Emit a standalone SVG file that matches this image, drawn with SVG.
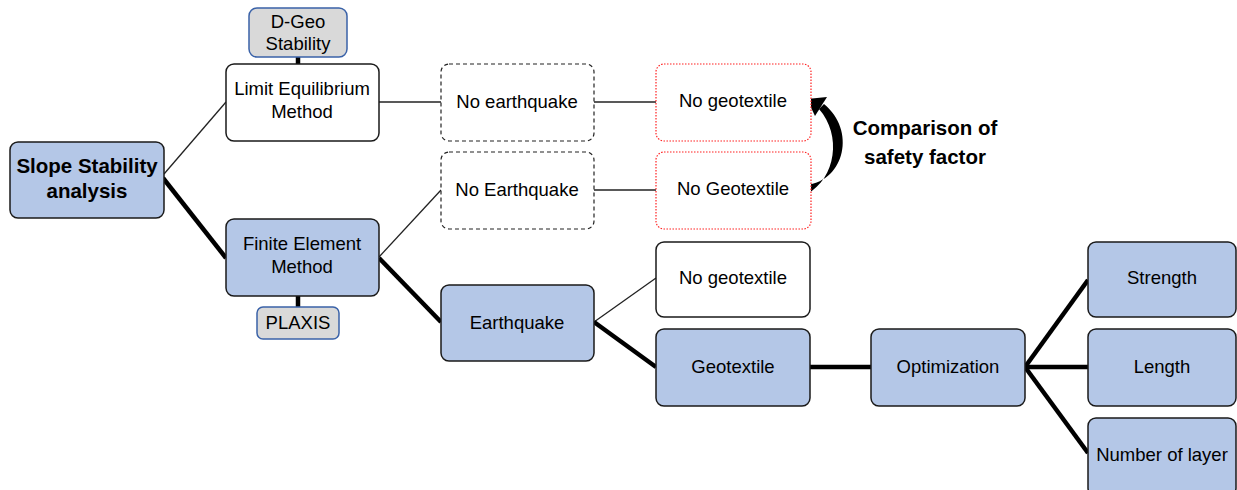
<svg xmlns="http://www.w3.org/2000/svg" width="1237" height="490" viewBox="0 0 1237 490">
<style>
text{font-family:"Liberation Sans",Arial,sans-serif;font-size:18.5px;fill:#000;text-anchor:middle}
.b{font-weight:bold;font-size:20.5px}
.blue{fill:#b4c7e7;stroke:#1a1a1a;stroke-width:1.5}
.white{fill:#fff;stroke:#1a1a1a;stroke-width:1.5}
.gray{fill:#d9d9d9;stroke:#3a62a8;stroke-width:1.5}
.dash{fill:#fff;stroke:#222;stroke-width:1.2;stroke-dasharray:4 3}
.red{fill:#fff;stroke:#ff2020;stroke-width:1.2;stroke-dasharray:1.5 1.5}
.thin{stroke:#222;stroke-width:1.3;fill:none}
.thick{stroke:#000;stroke-width:4.5;fill:none}
</style>
<g id="connectors">
<line class="thin" x1="164" y1="174" x2="226" y2="102"/>
<line class="thick" x1="163" y1="178" x2="226" y2="258"/>
<line class="thick" x1="298" y1="57" x2="298" y2="64"/>
<line class="thick" x1="298" y1="296" x2="298" y2="307"/>
<line class="thin" x1="379" y1="102" x2="441" y2="102"/>
<line class="thin" x1="594" y1="102" x2="656" y2="102"/>
<line class="thin" x1="379" y1="257" x2="441" y2="190"/>
<line class="thick" x1="379" y1="258" x2="441" y2="322"/>
<line class="thin" x1="594" y1="190" x2="656" y2="190"/>
<line class="thin" x1="594" y1="322" x2="656" y2="278"/>
<line class="thick" x1="594" y1="322" x2="656" y2="367"/>
<line class="thick" x1="810" y1="367" x2="871" y2="367"/>
<line class="thick" x1="1025" y1="367" x2="1088" y2="280"/>
<line class="thick" x1="1025" y1="367" x2="1088" y2="367"/>
<line class="thick" x1="1025" y1="367" x2="1088" y2="453"/>
<path d="M 807 185 C 845 180 856 130 824 104 L 819 109 C 842 135 836 178 807 194 Z" fill="#000"/>
<path d="M 807 99 L 827 97 L 815 116 Z" fill="#000"/>
</g>
<g id="slope"><rect class="blue" x="10" y="142" width="154" height="76" rx="8"/><text class="b" x="87" y="173">Slope Stability</text><text class="b" x="87" y="198">analysis</text></g>
<g id="dgeo"><rect class="gray" x="249" y="8" width="98" height="49" rx="8"/><text x="298" y="28">D-Geo</text><text x="298" y="50">Stability</text></g>
<g id="lem"><rect class="white" x="226" y="64" width="153" height="77" rx="8"/><text x="302" y="95">Limit Equilibrium</text><text x="302" y="118">Method</text></g>
<g id="fem"><rect class="blue" x="226" y="219" width="153" height="77" rx="8"/><text x="302" y="250">Finite Element</text><text x="302" y="273">Method</text></g>
<g id="plaxis"><rect class="gray" x="257" y="307" width="82" height="32" rx="6"/><text x="298" y="329">PLAXIS</text></g>
<g id="noeq1"><rect class="dash" x="441" y="64" width="153" height="77" rx="8"/><text x="517" y="108">No earthquake</text></g>
<g id="noeq2"><rect class="dash" x="441" y="152" width="153" height="77" rx="8"/><text x="517" y="196">No Earthquake</text></g>
<g id="eq"><rect class="blue" x="441" y="285" width="153" height="76" rx="8"/><text x="517" y="329">Earthquake</text></g>
<g id="nogeo1"><rect class="red" x="656" y="64" width="155" height="77" rx="8"/><text x="733" y="107">No geotextile</text></g>
<g id="nogeo2"><rect class="red" x="656" y="152" width="155" height="77" rx="8"/><text x="733" y="195">No Geotextile</text></g>
<g id="nogeo3"><rect class="white" x="656" y="242" width="154" height="75" rx="8"/><text x="733" y="284">No geotextile</text></g>
<g id="geo"><rect class="blue" x="656" y="329" width="154" height="77" rx="8"/><text x="733" y="373">Geotextile</text></g>
<g id="opt"><rect class="blue" x="871" y="329" width="154" height="77" rx="8"/><text x="948" y="373">Optimization</text></g>
<g id="strength"><rect class="blue" x="1088" y="242" width="148" height="75" rx="8"/><text x="1162" y="284">Strength</text></g>
<g id="length"><rect class="blue" x="1088" y="329" width="148" height="77" rx="8"/><text x="1162" y="373">Length</text></g>
<g id="layers"><rect class="blue" x="1088" y="418" width="148" height="78" rx="8"/><text x="1162" y="461">Number of layer</text></g>
<g id="comparison"><text class="b" x="925" y="135">Comparison of</text><text class="b" x="925" y="164">safety factor</text></g>
</svg>
